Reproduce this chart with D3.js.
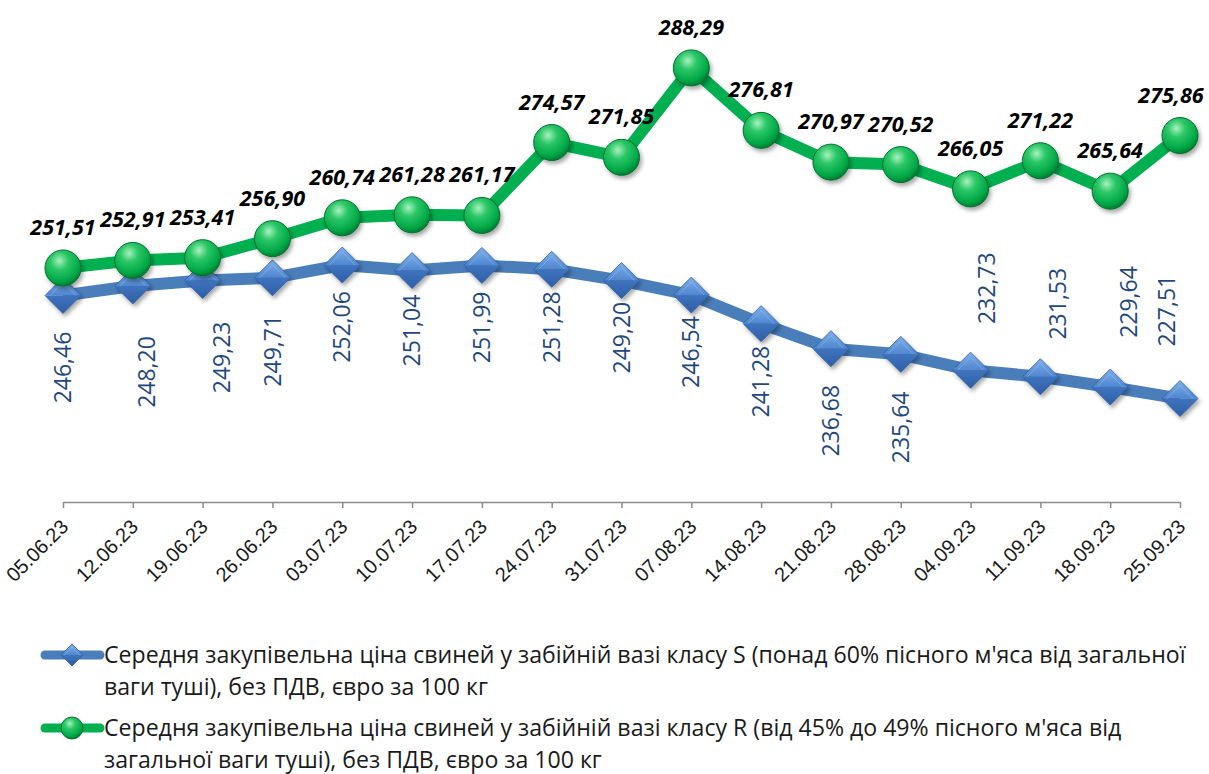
<!DOCTYPE html>
<html>
<head>
<meta charset="utf-8">
<script src="https://cdn.jsdelivr.net/npm/d3@7"></script>
<style>
  body { margin: 0; background: #fff; }
  svg { display: block; font-family: "Open Sans", "Noto Sans", sans-serif; }
</style>
</head>
<body>
<div id="chart"></div>
<script>
// data
var dates = ["05.06.23","12.06.23","19.06.23","26.06.23","03.07.23","10.07.23","17.07.23","24.07.23",
  "31.07.23","07.08.23","14.08.23","21.08.23","28.08.23","04.09.23","11.09.23","18.09.23","25.09.23"];
var priceS = [246.46,248.20,249.23,249.71,252.06,251.04,251.99,251.28,249.20,246.54,241.28,236.68,235.64,232.73,231.53,229.64,227.51];
var priceR = [251.51,252.91,253.41,256.90,260.74,261.28,261.17,274.57,271.85,288.29,276.81,270.97,270.52,266.05,271.22,265.64,275.86];
var legendS = ["Середня закупівельна ціна свиней у забійній вазі класу S (понад 60% пісного м'яса від загальної",
  "ваги туші), без ПДВ, євро за 100 кг"];
var legendR = ["Середня закупівельна ціна свиней у забійній вазі класу R (від 45% до 49% пісного м'яса від",
  "загальної ваги туші), без ПДВ, євро за 100 кг"];

// label nudges (px) relative to each point
var sLabelDy = [72,86,77,73,62,60,62,58,57,57,58,72,73,-82,-73,-85,-88];
var sLabelDx = [0,14,19,0,0,0,0,0,0,0,0,0,0,16,18,19,-13];
var rLabelDx = [0,0,0,0,0,0,0,0,0,0,0,0,0,0,0,0,-9];

var W = 1209, H = 774;
var svg = d3.select("#chart").append("svg").attr("width", W).attr("height", H);

var x = d3.scalePoint().domain(dates).range([63, 1180]);
var y = d3.scaleLinear().domain([208.5, 295]).range([502, 31.4]);

var fmt = function(v) { return v.toFixed(2).replace(".", ","); };

// defs: gradients + shadow
var defs = svg.append("defs");
var rg = defs.append("radialGradient").attr("id", "ball").attr("cx", "40%").attr("cy", "30%").attr("r", "70%");
rg.append("stop").attr("offset", "0%").attr("stop-color", "#a8f2bf");
rg.append("stop").attr("offset", "35%").attr("stop-color", "#2cc767");
rg.append("stop").attr("offset", "80%").attr("stop-color", "#00a846");
rg.append("stop").attr("offset", "100%").attr("stop-color", "#007e33");
var dgTop = defs.append("linearGradient").attr("id", "dtop").attr("x1", 0).attr("y1", 0).attr("x2", 0).attr("y2", 1);
dgTop.append("stop").attr("offset", "0%").attr("stop-color", "#7fb0ea");
dgTop.append("stop").attr("offset", "100%").attr("stop-color", "#4f86cf");
var dgBot = defs.append("linearGradient").attr("id", "dbot").attr("x1", 0).attr("y1", 0).attr("x2", 0).attr("y2", 1);
dgBot.append("stop").attr("offset", "0%").attr("stop-color", "#3f74be");
dgBot.append("stop").attr("offset", "100%").attr("stop-color", "#2e5ea6");
var sh = defs.append("filter").attr("id", "shadow").attr("x", "-50%").attr("y", "-50%").attr("width", "200%").attr("height", "200%");
sh.append("feDropShadow").attr("dx", 2).attr("dy", 3).attr("stdDeviation", 2).attr("flood-color", "#000").attr("flood-opacity", 0.35);

// x axis
var axis = svg.append("g").attr("transform", "translate(0,502)")
  .call(d3.axisBottom(x).tickSize(6).tickSizeOuter(0));
axis.select(".domain").attr("stroke", "#8c8c8c").attr("stroke-width", 1.5);
axis.selectAll(".tick line").attr("stroke", "#8c8c8c").attr("stroke-width", 1.5);
axis.selectAll(".tick text")
  .attr("font-size", 20).attr("fill", "#1a1a1a")
  .attr("text-anchor", "end")
  .attr("x", 0).attr("y", 0).attr("dy", 0)
  .attr("transform", "translate(6,26) rotate(-45)");

// diamond marker
function diamond(g, r) {
  g.append("path").attr("d", "M" + (-r) + ",0L0," + (-r) + "L" + r + ",0Z").attr("fill", "url(#dtop)");
  g.append("path").attr("d", "M" + (-r) + ",0L0," + r + "L" + r + ",0Z").attr("fill", "url(#dbot)");
  g.append("path").attr("d", "M" + (-r) + ",0L0," + (-r) + "L" + r + ",0L0," + r + "Z")
    .attr("fill", "none").attr("stroke", "#2f5f9f").attr("stroke-width", 0.8);
  var k = r * 0.72;
  g.append("path").attr("d", "M" + (-k) + ",0L0," + (-k) + "L" + k + ",0")
    .attr("fill", "none").attr("stroke", "#9cc3f0").attr("stroke-width", 0.8).attr("opacity", 0.6);
}
function ball(g, r) {
  g.append("circle").attr("r", r).attr("fill", "url(#ball)").attr("stroke", "#05702f").attr("stroke-width", 1);
}

var line = d3.line().x(function(d, i) { return x(dates[i]); }).y(function(d) { return y(d); });

// blue series
svg.append("path").datum(priceS).attr("d", line)
  .attr("fill", "none").attr("stroke", "#4a7ebb").attr("stroke-width", 12).attr("stroke-linejoin", "round");
// green series
svg.append("path").datum(priceR).attr("d", line)
  .attr("fill", "none").attr("stroke", "#00b050").attr("stroke-width", 12).attr("stroke-linejoin", "round");

svg.append("g").selectAll("g").data(priceS).join("g")
  .attr("transform", function(d, i) { return "translate(" + x(dates[i]) + "," + y(d) + ")"; })
  .attr("filter", "url(#shadow)")
  .each(function() { diamond(d3.select(this), 18); });

svg.append("g").selectAll("g").data(priceR).join("g")
  .attr("transform", function(d, i) { return "translate(" + x(dates[i]) + "," + y(d) + ")"; })
  .attr("filter", "url(#shadow)")
  .each(function() { ball(d3.select(this), 18); });

// blue labels, rotated
svg.append("g").selectAll("text").data(priceS).join("text")
  .attr("transform", function(d, i) {
    return "translate(" + (x(dates[i]) + sLabelDx[i]) + "," + (y(d) + sLabelDy[i]) + ") rotate(-90)";
  })
  .attr("text-anchor", "middle").attr("dy", "0.35em")
  .attr("font-size", 23).attr("fill", "#1f497d")
  .text(fmt);

// green labels
svg.append("g").selectAll("text").data(priceR).join("text")
  .attr("x", function(d, i) { return x(dates[i]) + rLabelDx[i]; })
  .attr("y", function(d) { return y(d) - 33; })
  .attr("text-anchor", "middle")
  .attr("font-size", 21.5).attr("font-weight", "bold").attr("font-style", "italic").attr("fill", "#000")
  .text(fmt);

// legend
var leg = [
  { lines: legendS, y: 655, kind: "s", color: "#4a7ebb" },
  { lines: legendR, y: 728, kind: "r", color: "#00b050" }
];
leg.forEach(function(l) {
  var g = svg.append("g");
  g.append("line").attr("x1", 45).attr("x2", 100).attr("y1", l.y).attr("y2", l.y)
    .attr("stroke", l.color).attr("stroke-width", 9).attr("stroke-linecap", "round");
  var m = g.append("g").attr("transform", "translate(72," + l.y + ")");
  if (l.kind === "s") diamond(m, 11); else ball(m, 11);
  var t = g.append("text").attr("font-size", 23.1).attr("fill", "#1a1a1a");
  l.lines.forEach(function(s, j) {
    t.append("tspan").attr("x", 104).attr("y", l.y + 8 + j * 32).text(s);
  });
});
</script>
</body>
</html>
